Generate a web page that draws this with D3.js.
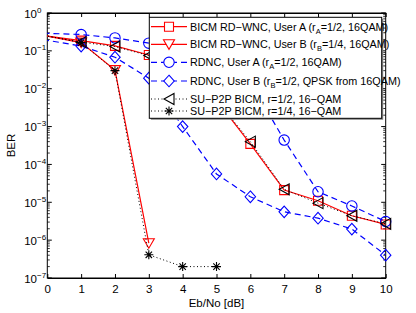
<!DOCTYPE html>
<html>
<head>
<meta charset="utf-8">
<script src="https://cdn.jsdelivr.net/npm/d3@7"></script>
<style>
  body { margin: 0; background: white; }
  svg text { font-family: "Liberation Sans", Arial, sans-serif; }
</style>
</head>
<body>
<div class="BerChart"></div>
<script>
// Eb/No points (dB); the curves start just left of the visible axis
const ebnoFull = [-1, 0, 1, 2, 3, 4, 5, 6, 7, 8, 9, 10];
const ebnoUserB = [-1, 0, 1, 2, 3];
const ebnoP2pQuarter = [-1, 0, 1, 2, 3, 4, 5];

// BER values
const bicmUserA = [0.33, 0.246, 0.186, 0.135, 0.078, 0.03, 5e-3, 3.5e-4, 2.1e-5, 1.1e-5, 4.4e-6, 2.6e-6];
const bicmUserB = [0.33, 0.246, 0.165, 0.031, 8.3e-7];
const rdncUserA = [0.31, 0.29, 0.27, 0.22, 0.16, 0.11, 0.06, 0.015, 4.4e-4, 1.9e-5, 8e-6, 3.1e-6];
const rdncUserB = [0.27, 0.19, 0.134, 0.068, 0.019, 1e-3, 5.6e-5, 1.4e-5, 5.6e-6, 3.8e-6, 1.96e-6, 4e-7];
const p2pHalf = [0.33, 0.246, 0.17, 0.13, 0.075, 0.03, 5e-3, 4e-4, 2.2e-5, 9.5e-6, 4.4e-6, 2.7e-6];
const p2pQuarter = [0.33, 0.246, 0.165, 0.03, 4.1e-7, 2e-7, 2e-7];

const xTicks = [0, 1, 2, 3, 4, 5, 6, 7, 8, 9, 10];
const yExponents = [0, -1, -2, -3, -4, -5, -6, -7];

const legendLabels = [
  ["BICM RD\u2212WNC, User A (r", "A", "=1/2, 16QAM)"],
  ["BICM RD\u2212WNC, User B (r", "B", "=1/4, 16QAM)"],
  ["RDNC, User A (r", "A", "=1/2, 16QAM)"],
  ["RDNC, User B (r", "B", "=1/2, QPSK from 16QAM)"],
  ["SU\u2212P2P BICM, r=1/2, 16\u2212QAM"],
  ["SU\u2212P2P BICM, r=1/4, 16\u2212QAM"],
];

const series = [
  { x: ebnoFull, y: bicmUserA, color: "#ff0000", dash: null, marker: "square" },
  { x: ebnoUserB, y: bicmUserB, color: "#ff0000", dash: null, marker: "triDown" },
  { x: ebnoFull, y: rdncUserA, color: "#0000ff", dash: "6,4", marker: "circle" },
  { x: ebnoFull, y: rdncUserB, color: "#0000ff", dash: "6,4", marker: "diamond" },
  { x: ebnoFull, y: p2pHalf, color: "#000000", dash: "1,2.5", marker: "triLeft" },
  { x: ebnoP2pQuarter, y: p2pQuarter, color: "#000000", dash: "1,2.5", marker: "star" },
];

function markerPath(type) {
  if (type === "square") return "M-4.5,-4.5H4.5V4.5H-4.5Z";
  if (type === "circle") return d3.symbol(d3.symbolCircle, Math.PI * 27)();
  if (type === "diamond") return "M0,-5.8L5.2,0L0,5.8L-5.2,0Z";
  if (type === "triDown") return "M-5.5,-4.5L5.5,-4.5L0,5Z";
  if (type === "triLeft") return "M-5,0L5,-5.5L5,5.5Z";
  // star: plus and cross together
  return "M-4.5,0H4.5M0,-4.5V4.5M-3.2,-3.2L3.2,3.2M-3.2,3.2L3.2,-3.2";
}

function createChart() {
  const width = 416;
  const height = 313;
  const left = 47.3, right = 385.7, top = 13, bottom = 278;

  const svg = d3.select(".BerChart")
    .append("svg")
    .attr("width", width)
    .attr("height", height);

  const xScale = d3.scaleLinear().domain([0, 10]).range([left, right]);
  const yScale = d3.scaleLog().domain([1e-7, 1]).range([bottom, top]);

  svg.append("clipPath")
    .attr("id", "plotClip")
    .append("rect")
    .attr("x", left).attr("y", top)
    .attr("width", right - left).attr("height", bottom - top);

  // Axes (box with inward ticks on all sides)
  svg.append("g")
    .attr("transform", `translate(0,${bottom})`)
    .call(d3.axisBottom(xScale).tickValues(xTicks).tickSizeInner(-4).tickSizeOuter(0).tickPadding(7).tickFormat(d3.format("d")))
    .call((g) => g.selectAll("text").style("font-size", "11.5px").attr("fill", "#000"));
  svg.append("g")
    .attr("transform", `translate(0,${top})`)
    .call(d3.axisTop(xScale).tickValues(xTicks).tickSizeInner(-4).tickSizeOuter(0).tickFormat(""));

  const minorTicks = [];
  for (let e = -7; e < 0; e++) {
    for (let m = 2; m <= 9; m++) minorTicks.push(m * Math.pow(10, e));
  }
  const majorTicks = yExponents.map((e) => Math.pow(10, e));

  [left, right].forEach((xPos, side) => {
    const dir = side === 0 ? 1 : -1;
    const g = svg.append("g");
    g.selectAll(".minor")
      .data(minorTicks)
      .enter()
      .append("line")
      .attr("x1", xPos).attr("x2", xPos + dir * 2.5)
      .attr("y1", (d) => yScale(d)).attr("y2", (d) => yScale(d))
      .attr("stroke", "#000").attr("stroke-width", 0.8);
    g.selectAll(".major")
      .data(majorTicks)
      .enter()
      .append("line")
      .attr("x1", xPos).attr("x2", xPos + dir * 4.5)
      .attr("y1", (d) => yScale(d)).attr("y2", (d) => yScale(d))
      .attr("stroke", "#000");
  });

  // y tick labels 10^n
  const yLabels = svg.append("g")
    .selectAll("text")
    .data(yExponents)
    .enter()
    .append("text")
    .attr("x", 37)
    .attr("y", (e) => yScale(Math.pow(10, e)) + 4.5)
    .attr("text-anchor", "end")
    .style("font-size", "11.5px");
  yLabels.append("tspan").text("10");
  yLabels.append("tspan")
    .attr("x", 37)
    .attr("dy", -5)
    .attr("text-anchor", "start")
    .style("font-size", "8px")
    .text((e) => (e < 0 ? "\u2212" + -e : e));

  // frame
  svg.append("rect")
    .attr("x", left).attr("y", top)
    .attr("width", right - left).attr("height", bottom - top)
    .attr("fill", "none").attr("stroke", "#000").attr("stroke-width", 1);

  // curves
  const line = d3.line()
    .x((d) => xScale(d[0]))
    .y((d) => yScale(d[1]));

  const plot = svg.append("g");
  series.forEach((s) => {
    const pts = s.x.map((x, i) => [x, s.y[i]]);
    plot.append("path")
      .datum(pts)
      .attr("d", line)
      .attr("clip-path", "url(#plotClip)")
      .attr("fill", "none")
      .attr("stroke", s.color)
      .attr("stroke-width", s.marker === "star" || s.marker === "triLeft" ? 1 : 1.2)
      .attr("stroke-dasharray", s.dash);
    // no markers are shown on the 0 dB edge in the original
    plot.selectAll(null)
      .data(pts.filter((p) => p[0] >= 1))
      .enter()
      .append("path")
      .attr("transform", (d) => `translate(${xScale(d[0])},${yScale(d[1])})`)
      .attr("d", markerPath(s.marker))
      .attr("fill", "none")
      .attr("stroke", s.color)
      .attr("stroke-width", 1.1);
  });

  // Legend
  const lgX = 149.3, lgY = 17.3, lgW = 232.4, lgH = 101;
  svg.append("rect")
    .attr("x", lgX + 1.5).attr("y", lgY + 1.5)
    .attr("width", lgW).attr("height", lgH)
    .attr("fill", "#888");
  svg.append("rect")
    .attr("x", lgX).attr("y", lgY)
    .attr("width", lgW).attr("height", lgH)
    .attr("fill", "white").attr("stroke", "#000").attr("stroke-width", 1);

  const rowY = [26.7, 44.3, 62.3, 81, 99, 111];
  series.forEach((s, i) => {
    const g = svg.append("g").attr("transform", `translate(0,${rowY[i]})`);
    g.append("line")
      .attr("x1", 151).attr("x2", 187)
      .attr("stroke", s.color)
      .attr("stroke-width", s.marker === "star" || s.marker === "triLeft" ? 1 : 1.2)
      .attr("stroke-dasharray", s.dash);
    g.append("path")
      .attr("transform", "translate(169,0)")
      .attr("d", markerPath(s.marker))
      .attr("fill", "white")
      .attr("stroke", s.color)
      .attr("stroke-width", 1.1);
    const t = g.append("text")
      .attr("x", 190)
      .attr("y", 4)
      .style("font-size", "10.8px");
    const parts = legendLabels[i];
    t.append("tspan").text(parts[0]);
    if (parts.length > 1) {
      t.append("tspan").attr("dy", 3).style("font-size", "7.5px").text(parts[1]);
      t.append("tspan").attr("dy", -3).text(parts[2]);
    }
  });

  // axis titles
  svg.append("text")
    .attr("x", (left + right) / 2)
    .attr("y", 307)
    .attr("text-anchor", "middle")
    .style("font-size", "11.5px")
    .text("Eb/No [dB]");

  svg.append("text")
    .attr("transform", `translate(15,${(top + bottom) / 2}) rotate(-90)`)
    .attr("text-anchor", "middle")
    .style("font-size", "11.5px")
    .text("BER");
}

createChart();
</script>
</body>
</html>
